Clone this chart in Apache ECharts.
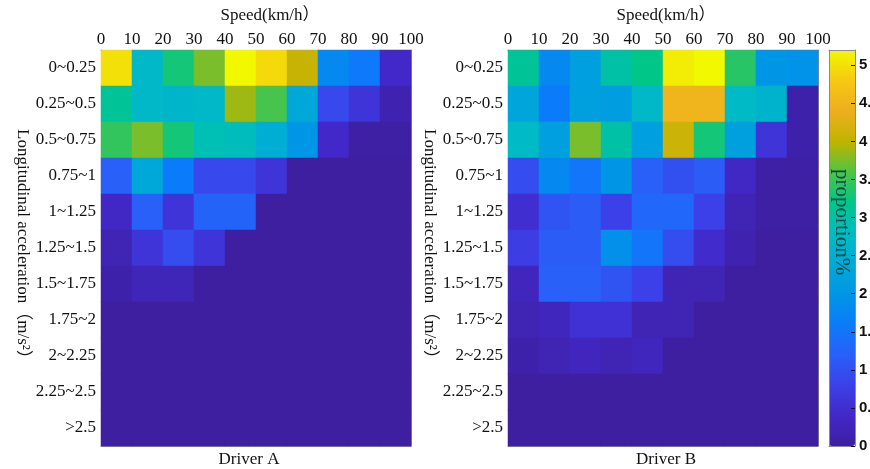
<!DOCTYPE html>
<html><head><meta charset="utf-8">
<script src="https://cdn.jsdelivr.net/npm/echarts@6/dist/echarts.min.js"></script>
<style>html,body{margin:0;padding:0;background:#fff;}#c{width:870px;height:469px;}</style>
</head><body><div id="c"></div>
<script>
// ---- data ----
const speedBins = ['0-10','10-20','20-30','30-40','40-50','50-60','60-70','70-80','80-90','90-100'];
const speedTickMin = 0, speedTickMax = 100, speedTickStep = 10;
const accelBins = ['0~0.25','0.25~0.5','0.5~0.75','0.75~1','1~1.25','1.25~1.5','1.5~1.75','1.75~2','2~2.25','2.25~2.5','>2.5'];
const driverA = [
  [5.0, 2.7, 3.3, 3.75, 5.2, 4.95, 4.05, 1.8, 1.55, 0.4],
  [3.1, 2.7, 2.65, 2.7, 3.88, 3.55, 2.35, 0.9, 0.6, 0.15],
  [3.45, 3.75, 3.3, 2.9, 2.85, 2.5, 2.0, 0.4, 0.05, 0.05],
  [1.2, 2.35, 1.6, 0.9, 0.9, 0.6, 0, 0, 0, 0],
  [0.35, 1.2, 0.6, 1.25, 1.25, 0, 0, 0, 0, 0],
  [0.2, 0.6, 0.95, 0.6, 0, 0, 0, 0, 0, 0],
  [0.1, 0.25, 0.25, 0, 0, 0, 0, 0, 0, 0],
  [0, 0, 0, 0, 0, 0, 0, 0, 0, 0],
  [0, 0, 0, 0, 0, 0, 0, 0, 0, 0],
  [0, 0, 0, 0, 0, 0, 0, 0, 0, 0],
  [0, 0, 0, 0, 0, 0, 0, 0, 0, 0]
];
const driverB = [
  [3.1, 1.8, 2.2, 3.0, 3.2, 5.1, 5.2, 3.4, 2.0, 1.95],
  [2.3, 1.6, 2.2, 2.15, 2.7, 4.5, 4.5, 2.75, 2.6, 0.1],
  [2.75, 2.2, 3.75, 3.0, 2.2, 4.1, 3.3, 2.2, 0.6, 0.1],
  [0.95, 1.8, 1.5, 2.0, 1.2, 1.0, 1.15, 0.35, 0.05, 0.05],
  [0.5, 1.05, 1.15, 0.8, 1.3, 1.3, 0.8, 0.2, 0.05, 0.05],
  [0.75, 1.15, 1.15, 1.9, 1.5, 0.95, 0.45, 0.15, 0, 0],
  [0.3, 1.2, 1.2, 1.05, 0.8, 0.2, 0.2, 0, 0, 0],
  [0.2, 0.3, 0.55, 0.55, 0.2, 0.2, 0, 0, 0, 0],
  [0.1, 0.2, 0.3, 0.2, 0.3, 0, 0, 0, 0, 0],
  [0, 0, 0, 0, 0, 0, 0, 0, 0, 0],
  [0, 0, 0, 0, 0, 0, 0, 0, 0, 0]
];
const colorMin = 0, colorMax = 5.2, colorStep = 0.5;
const parula = ['#3d1fa0','#4228c8','#3c40e8','#2860f8','#0a7cfa','#0096e6','#00aad8','#00bcc2','#00c688','#50c444','#c0b400','#eeae20','#f6c812','#f2f800'];

// ---- build ----
function toCells(m){ const out=[]; m.forEach((row,r)=>row.forEach((v,c)=>out.push([c,r,v]))); return out; }
const serif = 'Liberation Serif, Times New Roman, Noto Sans CJK SC, serif';
const txt = '#111';
const lineC = '#8a8a8a';
const tickC = '#333';
const FS = 17;
const plots = [
  {left:101, width:310, name:'Driver A', data:driverA, tPad:[0,0,0,28], bPad:[0,14,0,0]},
  {left:508, width:310, name:'Driver B', data:driverB, tPad:[0,0,0,6], bPad:[0,0,0,6]}
];
const grids=[], xAxes=[], yAxes=[], series=[];
plots.forEach((p,i)=>{
  grids.push({left:p.left, top:50, width:p.width, height:396, containLabel:false, outerBoundsMode:'none'});
  const xb = xAxes.length;
  xAxes.push({gridIndex:i, type:'category', data:speedBins, position:'bottom',
    axisLine:{show:true, lineStyle:{color:lineC}},
    axisTick:{show:true, inside:true, alignWithLabel:true, length:4, interval:(idx)=>idx%2===1, lineStyle:{color:tickC}},
    axisLabel:{show:false}, splitLine:{show:false},
    name:p.name, nameLocation:'middle', nameGap:5,
    nameTextStyle:{fontFamily:serif, fontSize:FS, color:txt, verticalAlign:'top', padding:p.bPad}});
  xAxes.push({gridIndex:i, type:'category', data:speedBins, position:'top',
    axisLine:{show:true, lineStyle:{color:lineC}},
    axisTick:{show:true, inside:true, alignWithLabel:true, length:4, interval:(idx)=>idx%2===1, lineStyle:{color:tickC}},
    axisLabel:{show:false}, splitLine:{show:false}});
  xAxes.push({gridIndex:i, type:'value', position:'top', min:speedTickMin, max:speedTickMax, interval:speedTickStep,
    axisLine:{show:false}, axisTick:{show:false}, splitLine:{show:false},
    axisLabel:{fontFamily:serif, fontSize:FS, color:txt, margin:2},
    name:'Speed(km/h）', nameLocation:'middle', nameGap:26,
    nameTextStyle:{fontFamily:serif, fontSize:FS, color:txt, padding:p.tPad}});
  const yl = yAxes.length;
  yAxes.push({gridIndex:i, type:'category', data:accelBins, inverse:true, position:'left',
    axisLine:{show:true, lineStyle:{color:lineC}},
    axisTick:{show:true, inside:true, alignWithLabel:true, length:4, interval:0, lineStyle:{color:tickC}},
    axisLabel:{fontFamily:serif, fontSize:FS, color:txt, margin:5, interval:0},
    name:'Longitudinal acceleration（m/s²）', nameLocation:'middle', nameGap:70, nameRotate:-90,
    nameTextStyle:{fontFamily:serif, fontSize:FS, color:txt}});
  yAxes.push({gridIndex:i, type:'category', data:accelBins, inverse:true, position:'right',
    axisLine:{show:true, lineStyle:{color:lineC}},
    axisTick:{show:true, inside:true, alignWithLabel:true, length:4, interval:0, lineStyle:{color:tickC}},
    axisLabel:{show:false}});
  series.push({type:'heatmap', xAxisIndex:xb, yAxisIndex:yl, data:toCells(p.data), itemStyle:{borderWidth:0}, progressive:0});
});
// colorbar frame / ticks
grids.push({left:829, top:50, width:26, height:396, containLabel:false, outerBoundsMode:'none'});
xAxes.push({gridIndex:2, type:'value', position:'bottom', z:10, axisLine:{show:true, onZero:false, lineStyle:{color:lineC}}, axisTick:{show:false}, axisLabel:{show:false}, splitLine:{show:false}});
xAxes.push({gridIndex:2, type:'value', position:'top', z:10, axisLine:{show:true, onZero:false, lineStyle:{color:lineC}}, axisTick:{show:false}, axisLabel:{show:false}, splitLine:{show:false}});
yAxes.push({gridIndex:2, type:'value', position:'right', min:colorMin, max:colorMax, interval:colorStep, z:10,
  axisLine:{show:true, onZero:false, lineStyle:{color:lineC}},
  axisTick:{show:true, inside:true, length:4, lineStyle:{color:'#111'}},
  splitLine:{show:false},
  axisLabel:{fontFamily:'Liberation Sans, Arial, sans-serif', fontWeight:'bold', fontSize:15, color:txt, margin:4, showMaxLabel:false}});
yAxes.push({gridIndex:2, type:'value', position:'left', min:colorMin, max:colorMax, z:10,
  axisLine:{show:true, onZero:false, lineStyle:{color:lineC}}, axisTick:{show:false}, axisLabel:{show:false}, splitLine:{show:false}});

const option = {
  backgroundColor:'#ffffff',
  animation:false,
  grid:grids, xAxis:xAxes, yAxis:yAxes,
  visualMap:{type:'continuous', min:colorMin, max:colorMax, seriesIndex:[0,1], orient:'vertical',
    left:829, top:50, itemWidth:26, itemHeight:396, padding:0, calculable:false, text:null, showLabel:false,
    inRange:{color:parula}},
  graphic:[{type:'text', left:831, top:169, rotation:-Math.PI/2, z:100,
    style:{text:'proportion%', fontFamily:serif, fontSize:21, fill:'#0a4848'}}],
  series:series
};
const chart = echarts.init(document.getElementById('c'), null, {renderer:'canvas'});
chart.setOption(option);
</script></body></html>
